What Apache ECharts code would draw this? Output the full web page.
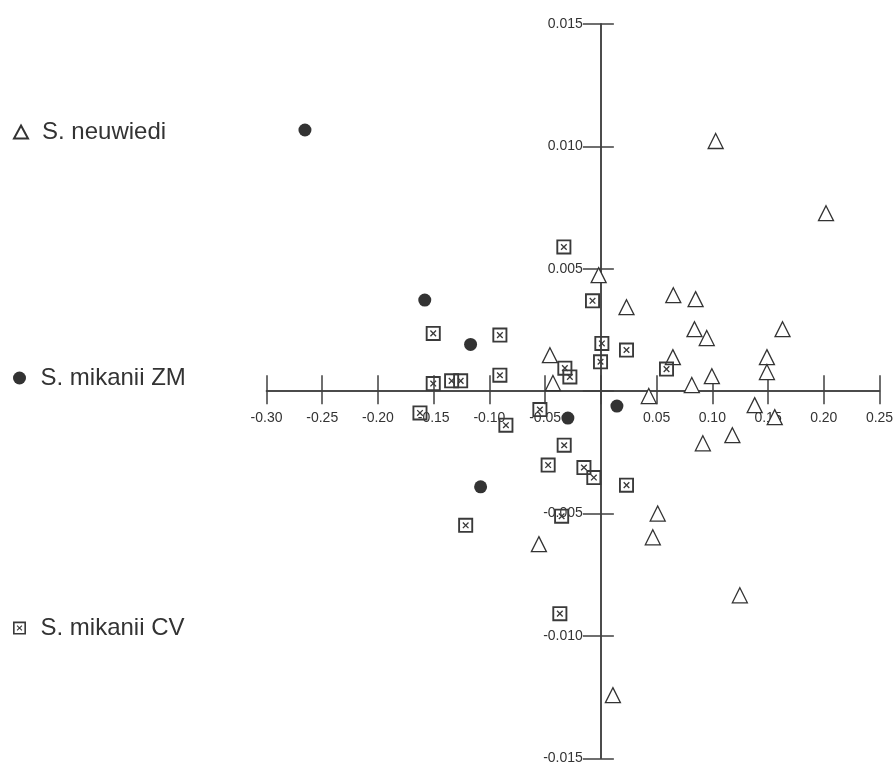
<!DOCTYPE html>
<html>
<head>
<meta charset="utf-8">
<script src="https://cdn.jsdelivr.net/npm/echarts@6/dist/echarts.min.js"></script>
<style>
html,body{margin:0;padding:0;background:#fff;}
#chart{width:893px;height:762px;}
</style>
</head>
<body>
<div id="chart"></div>
<script>
// Axis ranges / ticks
const xTicks = [-0.30, -0.25, -0.20, -0.15, -0.10, -0.05, 0, 0.05, 0.10, 0.15, 0.20, 0.25];
const yTicks = [-0.015, -0.010, -0.005, 0, 0.005, 0.010, 0.015];

// Series names
const seriesNames = ['S. neuwiedi', 'S. mikanii ZM', 'S. mikanii CV'];

// S. neuwiedi (triangles) [x, y]
const neuwiedi = [
  [0.103, 0.01022], [0.202, 0.00727], [-0.002, 0.00474], [0.023, 0.00343],
  [0.065, 0.00392], [0.085, 0.00376], [0.084, 0.00253], [0.095, 0.00217],
  [0.163, 0.00253], [0.149, 0.00139], [0.149, 0.00078], [0.0646, 0.00139],
  [0.0996, 0.00061], [0.0816, 0.00025], [0.043, -0.0002], [0.138, -0.00057],
  [0.156, -0.00106], [0.118, -0.0018], [0.0915, -0.00213], [-0.0457, 0.00147],
  [-0.043, 0.00033], [0.051, -0.0050], [0.0466, -0.00597], [-0.0556, -0.00625],
  [0.0108, -0.01242], [0.1247, -0.00834]
];

// S. mikanii ZM (filled circles)
const mikaniiZM = [
  [-0.2655, 0.01067], [-0.158, 0.00372], [-0.1169, 0.00191],
  [-0.0296, -0.0011], [0.0144, -0.00061], [-0.1079, -0.00391]
];

// S. mikanii CV (crossed boxes)
const mikaniiCV = [
  [-0.0332, 0.00589], [-0.0075, 0.00369], [-0.1504, 0.00236], [-0.0906, 0.00229],
  [0.0009, 0.00195], [-0.0003, 0.0012], [0.023, 0.00168], [0.0589, 0.0009],
  [-0.0906, 0.00065], [-0.0323, 0.00094], [-0.0278, 0.00058], [-0.1504, 0.00031],
  [-0.1339, 0.00042], [-0.1258, 0.00042], [-0.1623, -0.00089], [-0.0852, -0.00139],
  [-0.0547, -0.00075], [-0.0329, -0.00221], [-0.0473, -0.00302], [-0.0152, -0.00312],
  [-0.0063, -0.00353], [0.023, -0.00384], [-0.0352, -0.00511], [-0.1213, -0.00548],
  [-0.0368, -0.00909]
];

const ink = '#333333';
const axisInk = '#404040';
const fontFam = '"Liberation Sans", Arial, sans-serif';
const boxPath = 'path://M0,0H16V16H0Z M2,2V14H14V2Z M4.5,5.5L5.5,4.5L11.5,10.5L10.5,11.5Z M10.5,4.5L11.5,5.5L5.5,11.5L4.5,10.5Z';

const W = 893, H = 762;
const gridL = 266.5, gridR = 13.5, gridT = 24, gridB = 3.7;
const plotW = W - gridL - gridR, plotH = H - gridT - gridB;

const xMin = xTicks[0], xMax = xTicks[xTicks.length - 1];
const yMin = yTicks[0], yMax = yTicks[yTicks.length - 1];
const xInt = 0.05, yInt = 0.005;

// offsets that move each axis onto the other axis' zero (labels included)
const zeroFromBottom = plotH * (0 - yMin) / (yMax - yMin);
const zeroFromTop = plotH - zeroFromBottom;
const zeroFromLeft = plotW * (0 - xMin) / (xMax - xMin);
const zeroFromRight = plotW - zeroFromLeft;

function xAxisDef(pos, off, tickLen, showLabel) {
  return {
    type: 'value', position: pos, offset: -off, min: xMin, max: xMax, interval: xInt,
    axisLine: { show: true, onZero: false, lineStyle: { color: axisInk, width: 1.5 } },
    axisTick: { show: true, inside: false, length: tickLen, lineStyle: { color: axisInk, width: 1.5 } },
    axisLabel: {
      show: showLabel, margin: 20, color: ink, fontSize: 14, fontFamily: fontFam,
      formatter: v => Math.abs(v) < 1e-9 ? '' : v.toFixed(2)
    },
    splitLine: { show: false }
  };
}
function yAxisDef(pos, off, tickLen, showLabel) {
  return {
    type: 'value', position: pos, offset: -off, min: yMin, max: yMax, interval: yInt,
    axisLine: { show: true, onZero: false, lineStyle: { color: axisInk, width: 1.5 } },
    axisTick: { show: true, inside: false, length: tickLen, lineStyle: { color: axisInk, width: 1.5 } },
    axisLabel: {
      show: showLabel, margin: 18, color: ink, fontSize: 14, fontFamily: fontFam,
      formatter: v => Math.abs(v) < 1e-9 ? '' : v.toFixed(3)
    },
    splitLine: { show: false }
  };
}

function legendDef(name, centerY) {
  return {
    data: [name], orient: 'vertical', left: 13, top: centerY - 12, padding: 0,
    itemWidth: 14, itemHeight: 13, selectedMode: false,
    textStyle: { fontSize: 24, lineHeight: 24, color: ink, fontFamily: fontFam, padding: [0, 0, 0, 9] }
  };
}

const chart = echarts.init(document.getElementById('chart'), null, { renderer: 'canvas' });
chart.setOption({
  animation: false,
  backgroundColor: '#ffffff',
  grid: { left: gridL, right: gridR, top: gridT, bottom: gridB, containLabel: false, outerBoundsMode: 'none' },
  legend: [
    legendDef(seriesNames[0], 132),
    legendDef(seriesNames[1], 378),
    legendDef(seriesNames[2], 628)
  ],
  xAxis: [xAxisDef('bottom', zeroFromBottom, 13, true), xAxisDef('top', zeroFromTop, 16, false)],
  yAxis: [yAxisDef('left', zeroFromLeft, 18, true), yAxisDef('right', zeroFromRight, 13, false)],
  series: [
    {
      name: seriesNames[0], type: 'scatter', xAxisIndex: 0, yAxisIndex: 0,
      symbol: 'triangle', symbolSize: 15, data: neuwiedi,
      itemStyle: { color: '#ffffff', borderColor: ink, borderWidth: 1.3, opacity: 1 }
    },
    {
      name: seriesNames[1], type: 'scatter', xAxisIndex: 0, yAxisIndex: 0,
      symbol: 'circle', symbolSize: 13, data: mikaniiZM,
      itemStyle: { color: ink, opacity: 1 }
    },
    {
      name: seriesNames[2], type: 'scatter', xAxisIndex: 0, yAxisIndex: 0,
      symbol: boxPath, symbolSize: 15, data: mikaniiCV,
      itemStyle: { color: '#3a3a3a', opacity: 1 }
    }
  ]
});
</script>
</body>
</html>
